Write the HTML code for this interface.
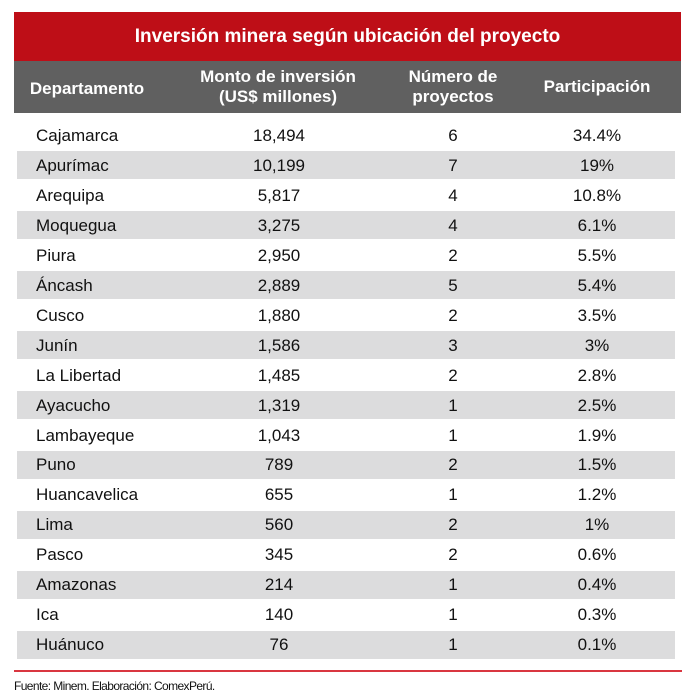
<!DOCTYPE html>
<html><head><meta charset="utf-8">
<style>
html,body{margin:0;padding:0;background:#fff;}
body{width:698px;height:700px;position:relative;overflow:hidden;font-family:"Liberation Sans",Arial,sans-serif;color:#111;}
.abs{position:absolute;}
.title{left:14px;top:12px;width:667px;height:49px;background:#be0e17;color:#fff;font-weight:bold;font-size:19px;line-height:49px;text-align:center;}
.hdr{left:14px;top:61px;width:667px;height:52px;background:#606060;}
.h{position:absolute;color:#fff;font-weight:bold;font-size:17px;line-height:20px;text-align:center;top:77px;transform:translateY(-10px);white-space:nowrap;}
.stripe{position:absolute;left:17px;width:658px;height:28px;background:#dcdcdd;}
.c{position:absolute;font-size:17px;line-height:30px;height:30px;white-space:nowrap;}
.foot{left:14px;top:679px;font-size:12px;line-height:14px;letter-spacing:-0.6px;color:#111;white-space:nowrap;}
.line{left:14px;top:670px;width:668px;height:2px;background:#d93640;}
</style></head><body>
<div class="abs title">Inversión minera según ubicación del proyecto</div>
<div class="abs hdr"></div>
<div class="h" style="left:7px;width:160px;top:89px;">Departamento</div>
<div class="h" style="left:178px;width:200px;top:77px;">Monto de inversión</div>
<div class="h" style="left:178px;width:200px;top:97px;">(US$ millones)</div>
<div class="h" style="left:373px;width:160px;top:77px;">Número de</div>
<div class="h" style="left:373px;width:160px;top:97px;">proyectos</div>
<div class="h" style="left:517px;width:160px;top:87px;">Participación</div>

<div id="rows"></div>
<script>
var d=[["Cajamarca","18,494","6","34.4%"],["Apurímac","10,199","7","19%"],["Arequipa","5,817","4","10.8%"],["Moquegua","3,275","4","6.1%"],["Piura","2,950","2","5.5%"],["Áncash","2,889","5","5.4%"],["Cusco","1,880","2","3.5%"],["Junín","1,586","3","3%"],["La Libertad","1,485","2","2.8%"],["Ayacucho","1,319","1","2.5%"],["Lambayeque","1,043","1","1.9%"],["Puno","789","2","1.5%"],["Huancavelica","655","1","1.2%"],["Lima","560","2","1%"],["Pasco","345","2","0.6%"],["Amazonas","214","1","0.4%"],["Ica","140","1","0.3%"],["Huánuco","76","1","0.1%"]];
var h="";
for(var i=0;i<d.length;i++){
 var t=121+29.95*i;
 if(i%2==1) h+='<div class="stripe" style="top:'+(t+0.5).toFixed(1)+'px"></div>';
 h+='<div class="c" style="left:36px;top:'+t.toFixed(1)+'px">'+d[i][0]+'</div>';
 h+='<div class="c" style="left:199px;width:160px;text-align:center;top:'+t.toFixed(1)+'px">'+d[i][1]+'</div>';
 h+='<div class="c" style="left:373px;width:160px;text-align:center;top:'+t.toFixed(1)+'px">'+d[i][2]+'</div>';
 h+='<div class="c" style="left:517px;width:160px;text-align:center;top:'+t.toFixed(1)+'px">'+d[i][3]+'</div>';
}
document.getElementById("rows").innerHTML=h;
</script>
<div class="abs line"></div>
<div class="abs foot">Fuente: Minem. Elaboración: ComexPerú.</div>
</body></html>
